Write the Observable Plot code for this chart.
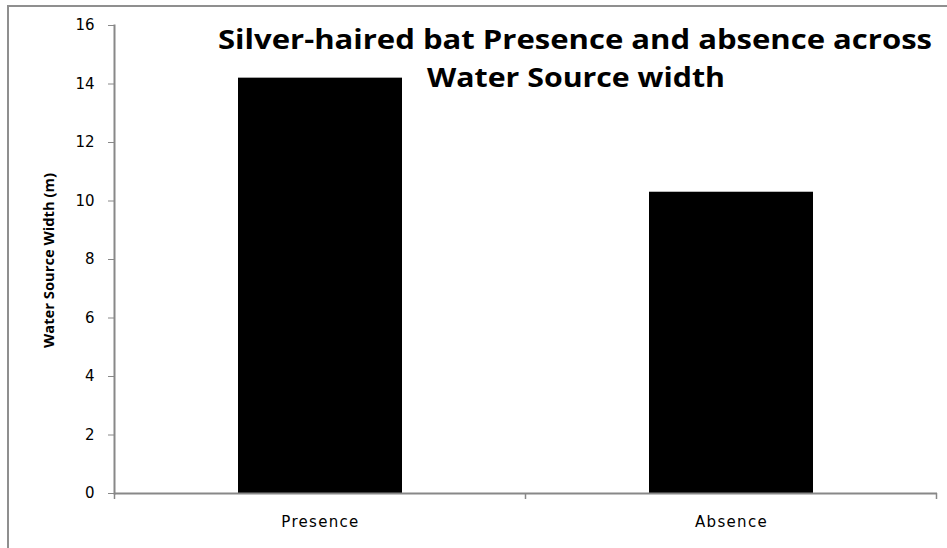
<!DOCTYPE html>
<html><head><meta charset="utf-8">
<script src="https://cdn.jsdelivr.net/npm/d3@7"></script>
<script src="https://cdn.jsdelivr.net/npm/@observablehq/plot@0.6"></script>
<style>
body{margin:0;background:#fff;}
#wrap{position:relative;width:947px;height:548px;overflow:hidden;background:#fff;}
#border{position:absolute;left:7px;top:5px;width:1000px;height:1000px;border:2px solid #8f8f8f;box-sizing:border-box;}
#chart{position:absolute;left:0;top:0;}
</style></head>
<body><div id="wrap"><div id="border"></div><div id="chart"></div></div>
<script>
const categories = ["Presence", "Absence"];
const values = [14.2, 10.3];
const yTicks = [0, 2, 4, 6, 8, 10, 12, 14, 16];
const titleLines = ["Silver-haired bat Presence and absence across", "Water Source width"];
const yLabel = "Water Source Width (m)";

const data = categories.map((c, i) => ({category: c, value: values[i]}));

const chart = Plot.plot({
  width: 947, height: 548,
  marginLeft: 114, marginRight: 10, marginTop: 25, marginBottom: 55,
  style: {background: "transparent", fontFamily: "DejaVu Sans, Verdana, sans-serif", fontSize: "14px", color: "#000", overflow: "visible"},
  x: {domain: categories, paddingInner: 0.6, paddingOuter: 0.3, label: null},
  y: {domain: [0, 16], ticks: yTicks, label: null},
  marks: [
    Plot.barY(data, {x: "category", y: "value", fill: "#000"}),
    Plot.axisY({ticks: yTicks, tickSize: 6, tickPadding: 14, stroke: "#888", fontSize: 15, label: null}),
    Plot.axisX({tickSize: 0, tickPadding: 23, fontSize: 15, label: null}),
    Plot.ruleY([0], {stroke: "#888", strokeWidth: 2}),
    Plot.frame({anchor: "left", stroke: "#888", strokeWidth: 2})
  ]
});
document.getElementById("chart").appendChild(chart);

const svg = d3.select(chart);
svg.selectAll('g[aria-label="x-axis tick label"] text').style("letter-spacing", "1.3px");

// category boundary ticks (Excel style)
const xs = chart.scale("x"), ys = chart.scale("y");
const y0 = ys.apply(0);
const bounds = categories.map(c => xs.apply(c) + xs.bandwidth / 2 - xs.step / 2);
bounds.push(xs.apply(categories[categories.length - 1]) + xs.bandwidth / 2 + xs.step / 2);
svg.append("g").selectAll("line").data(bounds).join("line")
  .attr("x1", d => d).attr("x2", d => d).attr("y1", y0).attr("y2", y0 + 6)
  .attr("stroke", "#888").attr("stroke-width", 1.5);

// title
const tg = svg.append("g").attr("font-family", "Open Sans, Liberation Sans, sans-serif").attr("font-weight", "bold").attr("font-size", 26).attr("fill", "#000").attr("text-anchor", "start");
const tpos = [{x: 218, y: 48.5, w: 714}, {x: 427, y: 87, w: 298}];
tg.selectAll("text").data(titleLines).join("text")
  .attr("x", (d, i) => tpos[i].x).attr("y", (d, i) => tpos[i].y)
  .attr("text-anchor", "start")
  .attr("textLength", (d, i) => tpos[i].w).attr("lengthAdjust", "spacingAndGlyphs")
  .text(d => d);

// y label
svg.append("text")
  .attr("transform", "translate(54,260.5) rotate(-90)")
  .attr("text-anchor", "middle")
  .attr("font-family", "Open Sans, Liberation Sans, sans-serif").attr("font-weight", "bold").attr("font-size", 15)
  .attr("textLength", 175).attr("lengthAdjust", "spacingAndGlyphs")
  .text(yLabel);
</script>
</body></html>
